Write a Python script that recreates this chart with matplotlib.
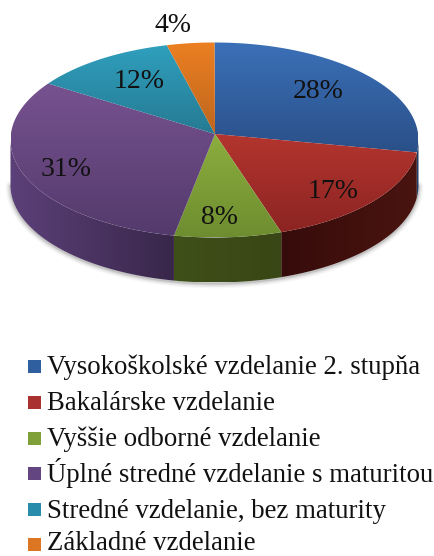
import numpy as np
import matplotlib
matplotlib.use('Agg')
import matplotlib.pyplot as plt
from matplotlib.colors import LinearSegmentedColormap
from matplotlib.patches import Polygon, Rectangle

# Data
categories = ['Vysokoškolské vzdelanie 2. stupňa', 'Bakalárske vzdelanie',
              'Vyššie odborné vzdelanie', 'Úplné stredné vzdelanie s maturitou',
              'Stredné vzdelanie, bez maturity', 'Základné vzdelanie']
shares = [28, 17, 8, 31, 12, 4]

# Colours, both ends of each gradient
top_light = ['#3b70b8', '#b4352f', '#8cae3e', '#77528f', '#2f9fbe', '#ec7f22']
top_dark = ['#2a5088', '#8c2422', '#6e8d30', '#533a6c', '#267a92', '#bd661e']
side_left = ['#234470', '#360c0b', '#3f5019', '#5c4079', '#1f6478', '#9c5518']
side_right = ['#1d3a60', '#4a1410', '#394615', '#39274a', '#1f6478', '#9c5518']
legend_colors = ['#2f5f9e', '#a93231', '#7f9f38', '#634582', '#2a8cab', '#dc7622']

# Geometry in pixels
cx, cy, rx, ry = 214.5, 140.0, 204.0, 97.5
apex_x, apex_y = 215.0, 134.0
depth = 45.0
label_xy = [(318, 92), (333, 192), (220, 218), (66, 170), (139, 82), (173, 26)]
legend_y = [366, 402, 438, 473, 509, 544]
legend_base = [374, 410, 446, 482, 518, 550]


def rim_angle(phi):
    # where a ray from the off-centre apex meets the rim, phi clockwise from north
    e = (cy - apex_y) / ry
    dx, dy = np.sin(phi), np.cos(phi)
    t = -e * dy + np.sqrt((e * dy) ** 2 - e ** 2 + 1)
    return np.arctan2(e + t * dy, t * dx)


def arc(a0, a1, n=120):
    a = np.linspace(a0, a1, n)
    return np.column_stack([cx + rx * np.cos(a), cy - ry * np.sin(a)])


def gradient_fill(ax, verts, c0, c1, horizontal=False):
    xmin, ymin = verts.min(axis=0)
    xmax, ymax = verts.max(axis=0)
    cmap = LinearSegmentedColormap.from_list('g', [c0, c1])
    grad = np.linspace(0, 1, 256)
    grad = grad[None, :] if horizontal else grad[:, None]
    im = ax.imshow(grad, cmap=cmap, extent=(xmin, xmax, ymax, ymin), aspect='auto',
                   vmin=0, vmax=1, zorder=2, interpolation='bilinear')
    im.set_clip_path(Polygon(verts, closed=True, transform=ax.transData))


plt.rcParams['font.family'] = ['Liberation Serif', 'DejaVu Serif']
fig = plt.figure(figsize=(4.35, 5.56), dpi=100)
ax = fig.add_axes([0, 0, 1, 1])

# soft shadow under the pie
shadow = arc(np.pi, 2 * np.pi) + [0, depth]
for w, alpha in zip([7, 5, 3, 1.5], [0.03, 0.05, 0.07, 0.1]):
    ax.plot(shadow[:, 0], shadow[:, 1] + 1, color='black', lw=w, alpha=alpha, zorder=1,
            solid_capstyle='round')

edges = np.radians(np.cumsum([0] + shares) * 3.6)
starts = np.array([rim_angle(p) for p in edges[:-1]])
ends = np.array([rim_angle(p) for p in edges[1:]])

# sides, only the lower half of the rim shows
for i in range(len(shares)):
    a0 = starts[i] % (2 * np.pi)
    a1 = ends[i] % (2 * np.pi)
    if i == 0:
        a0, a1 = a1, 2 * np.pi
    else:
        a0, a1 = min(a0, a1), max(a0, a1)
    a0 = max(a0, np.pi)
    a1 = min(a1, 2 * np.pi)
    if a1 <= a0:
        continue
    top = arc(a0, a1)
    verts = np.vstack([top, top[::-1] + [0, depth]])
    gradient_fill(ax, verts, side_left[i], side_right[i], horizontal=True)

# top faces
for i in range(len(shares)):
    a0 = starts[i]
    a1 = ends[i]
    while a1 > a0:
        a1 -= 2 * np.pi
    verts = np.vstack([[apex_x, apex_y], arc(a0, a1)])
    gradient_fill(ax, verts, top_light[i], top_dark[i])

for (x, y), s in zip(label_xy, shares):
    ax.text(x, y, f'{s}%', fontsize=20, ha='center', va='center', color='#111111', zorder=4)

for y, base, c, name in zip(legend_y, legend_base, legend_colors, categories):
    ax.add_patch(Rectangle((28, y - 6.5), 13, 13, facecolor=c, edgecolor='none', zorder=3))
    ax.text(47, base, name, fontsize=19.3, ha='left', va='baseline', color='#111111', zorder=4)

ax.set_xlim(0, 435)
ax.set_ylim(556, 0)
ax.axis('off')
fig.savefig('out.png', dpi=100, facecolor='white')
